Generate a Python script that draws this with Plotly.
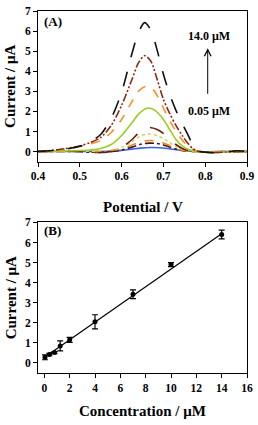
import plotly.graph_objects as go

# ---------------- Panel A: DPV curves (Potential / V vs Current / uA) ----------------
v_c1 = [0.40, 0.50, 0.55, 0.575, 0.60, 0.625, 0.645, 0.67, 0.69, 0.71, 0.73, 0.75, 0.77, 0.80, 0.85, 0.90]
i_c1 = [0.00, 0.00, 0.00, 0.02, 0.06, 0.12, 0.17, 0.20, 0.19, 0.15, 0.09, 0.04, 0.01, -0.01, 0.00, 0.00]

v_c2 = [0.40, 0.45, 0.50, 0.525, 0.55, 0.575, 0.60, 0.625, 0.645, 0.665, 0.685, 0.70, 0.715, 0.73, 0.745, 0.76, 0.78, 0.80, 0.85, 0.90]
i_c2 = [0.00, 0.01, 0.00, -0.03, -0.04, 0.00, 0.08, 0.22, 0.36, 0.42, 0.40, 0.33, 0.23, 0.13, 0.06, 0.02, 0.00, -0.02, 0.00, 0.00]

v_c3 = [0.40, 0.45, 0.50, 0.55, 0.575, 0.60, 0.625, 0.645, 0.665, 0.685, 0.70, 0.715, 0.73, 0.745, 0.76, 0.78, 0.80, 0.85, 0.875, 0.90]
i_c3 = [0.00, 0.02, 0.02, 0.00, 0.05, 0.15, 0.32, 0.48, 0.55, 0.52, 0.43, 0.30, 0.17, 0.07, 0.02, 0.00, -0.02, 0.00, 0.03, 0.00]

v_c4 = [0.40, 0.50, 0.55, 0.575, 0.60, 0.625, 0.645, 0.665, 0.685, 0.70, 0.715, 0.73, 0.745, 0.76, 0.78, 0.80, 0.90]
i_c4 = [0.00, 0.01, 0.02, 0.06, 0.20, 0.50, 0.78, 0.88, 0.80, 0.65, 0.45, 0.25, 0.10, 0.03, 0.00, -0.02, 0.00]

v_c5 = [0.40, 0.45, 0.50, 0.525, 0.55, 0.575, 0.60, 0.625, 0.645, 0.665, 0.685, 0.70, 0.715, 0.73, 0.745, 0.76, 0.78, 0.80, 0.85, 0.90]
i_c5 = [0.00, 0.02, 0.00, -0.03, -0.05, 0.00, 0.20, 0.60, 1.00, 1.20, 1.10, 0.90, 0.60, 0.35, 0.15, 0.05, 0.00, -0.03, -0.02, 0.00]

v_c6 = [0.40, 0.45, 0.50, 0.525, 0.55, 0.575, 0.60, 0.625, 0.64, 0.66, 0.68, 0.70, 0.715, 0.73, 0.745, 0.76, 0.775, 0.80, 0.85, 0.90]
i_c6 = [0.00, 0.02, 0.05, 0.08, 0.15, 0.35, 0.80, 1.45, 1.85, 2.16, 2.05, 1.60, 1.10, 0.60, 0.28, 0.10, 0.02, -0.02, -0.01, 0.00]

v_c7 = [0.40, 0.45, 0.50, 0.525, 0.55, 0.575, 0.60, 0.625, 0.64, 0.658, 0.675, 0.69, 0.705, 0.72, 0.735, 0.75, 0.765, 0.78, 0.80, 0.82, 0.85, 0.875, 0.90]
i_c7 = [0.00, 0.08, 0.25, 0.38, 0.55, 0.95, 1.60, 2.50, 3.00, 3.25, 3.10, 2.60, 1.95, 1.35, 0.85, 0.45, 0.18, 0.02, -0.03, -0.05, -0.02, 0.03, 0.00]

v_c8 = [0.40, 0.45, 0.50, 0.525, 0.55, 0.575, 0.60, 0.625, 0.64, 0.655, 0.67, 0.685, 0.70, 0.715, 0.73, 0.745, 0.757, 0.77, 0.78, 0.80, 0.82, 0.85, 0.875, 0.90]
i_c8 = [0.00, 0.10, 0.28, 0.45, 0.70, 1.30, 2.30, 3.60, 4.40, 4.78, 4.50, 3.60, 2.60, 1.90, 1.30, 0.80, 0.45, 0.15, 0.03, -0.03, -0.05, -0.02, 0.04, 0.00]

v_c9 = [0.40, 0.45, 0.50, 0.525, 0.55, 0.575, 0.60, 0.625, 0.64, 0.655, 0.67, 0.685, 0.70, 0.715, 0.73, 0.745, 0.757, 0.77, 0.78, 0.80, 0.82, 0.85, 0.875, 0.90]
i_c9 = [0.00, 0.08, 0.26, 0.50, 0.85, 1.65, 2.95, 4.90, 5.90, 6.42, 6.05, 5.05, 3.85, 2.85, 2.05, 1.40, 0.90, 0.35, 0.05, -0.03, -0.06, -0.03, 0.04, 0.00]

curve_v = [v_c1, v_c2, v_c3, v_c4, v_c5, v_c6, v_c7, v_c8, v_c9]
curve_i = [i_c1, i_c2, i_c3, i_c4, i_c5, i_c6, i_c7, i_c8, i_c9]
curve_colors = ["#3a5fe8", "#3a1a10", "#f0822a", "#cfd85a", "#6b1c10", "#9acd20", "#ff8c28", "#8b2a14", "#111111"]
curve_dash = ["solid", "dashdot", "dash", "dot", "longdash", "solid", "dash", "8px,2px,2px,2px,2px,2px", "longdash"]

# ---------------- Panel B: calibration ----------------
conc = [0.05, 0.4, 0.8, 1.25, 2, 4, 7, 10, 14]
current = [0.28, 0.42, 0.52, 0.85, 1.15, 2.05, 3.42, 4.90, 6.40]
current_err = [0.12, 0.06, 0.05, 0.25, 0.12, 0.35, 0.22, 0.10, 0.22]
fit_x = [0.05, 14]
fit_y = [0.30, 6.44]

xticks_a = [0.4, 0.5, 0.6, 0.7, 0.8, 0.9]
xticks_b = [0, 2, 4, 6, 8, 10, 12, 14, 16]
yticks = [0, 1, 2, 3, 4, 5, 6, 7]

FONT = "Liberation Serif"

fig = go.Figure()
for v, i, c, d in zip(curve_v, curve_i, curve_colors, curve_dash):
    fig.add_trace(go.Scatter(x=v, y=i, mode="lines", line=dict(color=c, width=1.6, dash=d, shape="spline", smoothing=0.8),
                             xaxis="x", yaxis="y", showlegend=False))

fig.add_trace(go.Scatter(x=fit_x, y=fit_y, mode="lines", line=dict(color="black", width=1.2),
                         xaxis="x2", yaxis="y2", showlegend=False))
fig.add_trace(go.Scatter(x=conc, y=current, mode="markers",
                         marker=dict(color="black", size=5),
                         error_y=dict(type="data", array=current_err, color="black", thickness=1.2, width=3),
                         xaxis="x2", yaxis="y2", showlegend=False))

axis_common = dict(showline=True, linecolor="black", linewidth=1, mirror=True, ticks="outside",
                   ticklen=4, tickcolor="black", showgrid=False, zeroline=False,
                   tickfont=dict(family=FONT, size=11.5, color="black"))

fig.update_layout(
    width=258, height=425,
    margin=dict(l=38, r=7, t=5, b=52),
    plot_bgcolor="white", paper_bgcolor="white",
    xaxis=dict(domain=[0, 1], anchor="y", range=[0.4, 0.9], tickvals=xticks_a,
               ticktext=[f"<b>{t:.1f}</b>" for t in xticks_a], **axis_common),
    yaxis=dict(domain=[0.584, 1], anchor="x", range=[-0.5, 7], tickvals=yticks,
               ticktext=[f"<b>{t}</b>" for t in yticks], **axis_common),
    xaxis2=dict(domain=[0, 1], anchor="y2", range=[-0.5, 16], tickvals=xticks_b,
                ticktext=[f"<b>{t}</b>" for t in xticks_b], **axis_common),
    yaxis2=dict(domain=[0, 0.416], anchor="x2", range=[-0.5, 7], tickvals=yticks,
                ticktext=[f"<b>{t}</b>" for t in yticks], **axis_common),
)

tf = dict(family=FONT, color="black")
annotations = [
    dict(text="<b>Potential / V</b>", xref="paper", yref="paper", x=0.5, y=0.459, showarrow=False,
         font=dict(size=15, **tf), xanchor="center", yanchor="middle"),
    dict(text="<b>Concentration / μM</b>", xref="paper", yref="paper", x=0.5, y=-0.106, showarrow=False,
         font=dict(size=15, **tf), xanchor="center", yanchor="middle"),
    dict(text="<b>Current / μA</b>", xref="paper", yref="paper", x=-0.131, y=0.792, showarrow=False,
         textangle=-90, font=dict(size=15, **tf), xanchor="center", yanchor="middle"),
    dict(text="<b>Current / μA</b>", xref="paper", yref="paper", x=-0.131, y=0.208, showarrow=False,
         textangle=-90, font=dict(size=15, **tf), xanchor="center", yanchor="middle"),
    dict(text="<b>(A)</b>", xref="paper", yref="paper", x=0.019, y=0.970, showarrow=False,
         font=dict(size=13, **tf), xanchor="left", yanchor="middle"),
    dict(text="<b>(B)</b>", xref="paper", yref="paper", x=0.019, y=0.394, showarrow=False,
         font=dict(size=13, **tf), xanchor="left", yanchor="middle"),
    dict(text="<b>14.0 μM</b>", xref="x", yref="y", x=0.808, y=5.76, showarrow=False,
         font=dict(size=12, **tf), xanchor="center", yanchor="middle"),
    dict(text="<b>0.05 μM</b>", xref="x", yref="y", x=0.808, y=2.02, showarrow=False,
         font=dict(size=12, **tf), xanchor="center", yanchor="middle"),
    dict(text="", xref="x", yref="y", x=0.806, y=5.15, ax=0.806, ay=2.8, axref="x", ayref="y",
         showarrow=True, arrowhead=5, arrowsize=1.3, arrowwidth=1, arrowcolor="black"),
]
fig.update_layout(annotations=annotations)

fig.write_html("out.html", config={"displayModeBar": False},
               post_script="document.body.style.margin='0';document.body.style.overflow='hidden';")
